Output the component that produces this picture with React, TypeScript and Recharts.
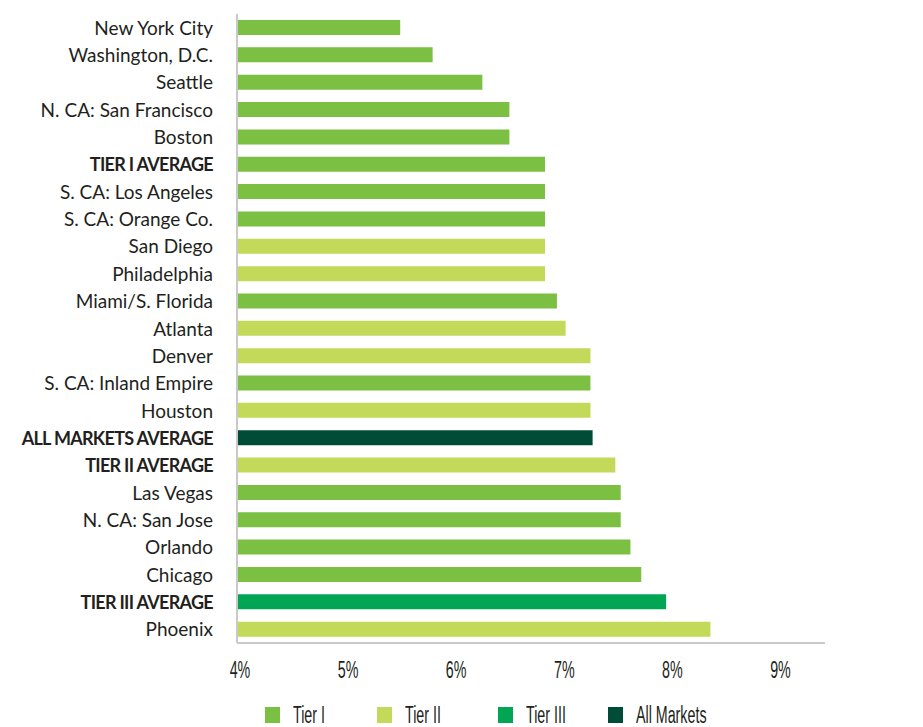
import React from "react";
import { BarChart, Bar, XAxis, YAxis, Cell, Legend } from "recharts";

const categories = [
  "New York City",
  "Washington, D.C.",
  "Seattle",
  "N. CA: San Francisco",
  "Boston",
  "TIER I AVERAGE",
  "S. CA: Los Angeles",
  "S. CA: Orange Co.",
  "San Diego",
  "Philadelphia",
  "Miami/S. Florida",
  "Atlanta",
  "Denver",
  "S. CA: Inland Empire",
  "Houston",
  "ALL MARKETS AVERAGE",
  "TIER II AVERAGE",
  "Las Vegas",
  "N. CA: San Jose",
  "Orlando",
  "Chicago",
  "TIER III AVERAGE",
  "Phoenix",
];

const values = [
  5.51, 5.81, 6.27, 6.52, 6.52, 6.85, 6.85, 6.85, 6.85, 6.85, 6.96, 7.04,
  7.27, 7.27, 7.27, 7.29, 7.5, 7.55, 7.55, 7.64, 7.74, 7.97, 8.38,
];

const tiers = [
  "Tier I", "Tier I", "Tier I", "Tier I", "Tier I", "Tier I", "Tier I",
  "Tier I", "Tier II", "Tier II", "Tier I", "Tier II", "Tier II", "Tier I",
  "Tier II", "All Markets", "Tier II", "Tier I", "Tier I", "Tier I", "Tier I",
  "Tier III", "Tier II",
];

const boldLabels = [
  "TIER I AVERAGE",
  "ALL MARKETS AVERAGE",
  "TIER II AVERAGE",
  "TIER III AVERAGE",
];

const legendNames = ["Tier I", "Tier II", "Tier III", "All Markets"];
const legendColors = ["#7bbf43", "#c2d959", "#00a653", "#004c36"];

const xTicks = [4, 5, 6, 7, 8, 9];

const colorOf = (t: string) => legendColors[legendNames.indexOf(t)];

const data = categories.map((name, i) => ({
  name,
  value: values[i],
  tier: tiers[i],
}));

const YTick = (props: any) => {
  const { x, y, payload } = props;
  const bold = boldLabels.includes(payload.value);
  return (
    <text
      x={x}
      y={y}
      dy={7}
      textAnchor="end"
      fill="#231f20"
      fontFamily="Lato, sans-serif"
      fontSize={bold ? 18 : 19}
      fontWeight={bold ? 700 : 400}
      letterSpacing={bold ? -0.7 : 0}
    >
      {payload.value}
    </text>
  );
};

const condensedFont = "'Liberation Sans Narrow', 'Liberation Sans', sans-serif";

const XTick = (props: any) => {
  const { x, y, payload } = props;
  return (
    <g transform={`translate(${x + 3},${y + 27}) scale(0.62,1)`}>
      <text
        x={0}
        y={0}
        textAnchor="middle"
        fill="#231f20"
        fontFamily={condensedFont}
        fontSize={23}
      >
        {`${payload.value}%`}
      </text>
    </g>
  );
};

const itemWidths = [112, 121, 110, 110];

const LegendContent = () => (
  <div style={{ display: "flex", alignItems: "center", height: 18 }}>
    {legendNames.map((n, i) => (
      <div
        key={n}
        style={{
          width: itemWidths[i],
          display: "flex",
          alignItems: "center",
          height: 18,
        }}
      >
        <div
          style={{
            width: 15,
            height: 16,
            background: legendColors[i],
            marginRight: 13,
            flex: "none",
          }}
        />
        <span
          style={{
            fontFamily: condensedFont,
            fontSize: 23,
            color: "#231f20",
            display: "inline-block",
            transform: "scale(0.62,1)",
            transformOrigin: "left center",
            whiteSpace: "nowrap",
            lineHeight: "18px",
          }}
        >
          {n}
        </span>
      </div>
    ))}
  </div>
);

export default function App() {
  return (
    <BarChart
      width={900}
      height={715}
      data={data}
      layout="vertical"
      margin={{ top: 6, right: 83, left: 0, bottom: 18 }}
      barSize={15}
    >
      <XAxis
        type="number"
        domain={[4, 9.44]}
        ticks={xTicks}
        allowDataOverflow
        axisLine={{ stroke: "#c9c9c9", strokeWidth: 2 }}
        tickLine={false}
        tick={<XTick />}
        height={44}
      />
      <YAxis
        type="category"
        dataKey="name"
        width={229}
        interval={0}
        axisLine={{ stroke: "#c9c9c9", strokeWidth: 2 }}
        tickLine={false}
        tickSize={0}
        tickMargin={24}
        tick={<YTick />}
      />
      <Legend
        content={<LegendContent />}
        wrapperStyle={{ left: 257, top: 698, width: 460, height: 18 }}
      />
      <Bar dataKey="value" isAnimationActive={false}>
        {data.map((d, i) => (
          <Cell key={i} fill={colorOf(d.tier)} />
        ))}
      </Bar>
    </BarChart>
  );
}
